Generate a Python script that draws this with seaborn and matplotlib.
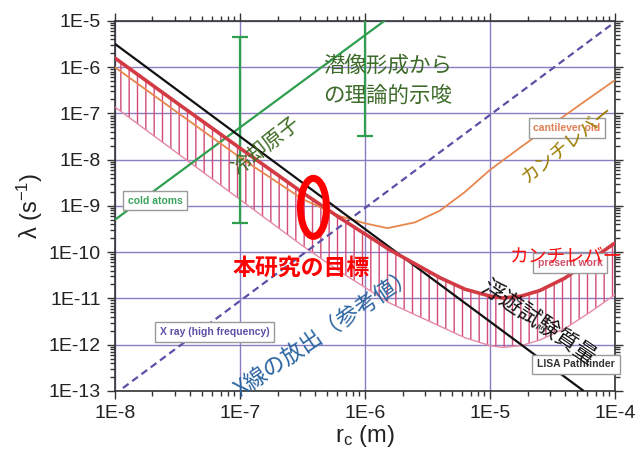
import matplotlib
matplotlib.use("Agg")
import matplotlib.pyplot as plt
import numpy as np
import seaborn as sns
from matplotlib.patches import Ellipse
from matplotlib.ticker import FixedLocator, FixedFormatter, LogLocator, NullFormatter

# --- data (r_c in m, lambda in 1/s) ---
x_ticks = [1e-8, 1e-7, 1e-6, 1e-5, 1e-4]
x_labels = ["1E-8", "1E-7", "1E-6", "1E-5", "1E-4"]
y_ticks = [1e-13, 1e-12, 1e-11, 1e-10, 1e-9, 1e-8, 1e-7, 1e-6, 1e-5]
y_labels = ["1E-13", "1E-12", "1E-11", "1E-10", "1E-9", "1E-8", "1E-7", "1E-6", "1E-5"]

# LISA Pathfinder (black)
lisa_x = [1e-8, 5.6e-5]
lisa_y = [3.2e-6, 1.0e-13]

# cold atoms (green) and its two error bars
cold_x = [1e-8, 1.5e-6]
cold_y = [5.0e-10, 1.1e-5]
err_x = [1e-7, 1e-6]
err_lo = [4.3e-10, 3.2e-8]
err_hi = [4.5e-6, 3.0e-4]

# X ray (high frequency), dashed
xray_x = [1.16e-8, 1e-4]
xray_y = [1.15e-13, 9.5e-6]

# cantilever old (orange)
cant_x = [1e-8, 3.16e-8, 1e-7, 3.16e-7, 6.3e-7, 1e-6, 1.51e-6, 2.51e-6,
          3.98e-6, 6.3e-6, 1e-5, 1.78e-5, 3.16e-5, 5.6e-5, 1e-4]
cant_y = [1.0e-6, 1.05e-7, 1.12e-8, 1.41e-9, 6.0e-10, 4.2e-10, 3.3e-10, 4.4e-10,
          7.9e-10, 2.0e-9, 6.0e-9, 1.9e-8, 5.8e-8, 1.75e-7, 5.25e-7]

# present work: upper bound (thick red) and lower bound of hatched band
pw_x = [1e-8, 3.16e-8, 1e-7, 3.16e-7, 6.3e-7, 1.58e-6, 3.98e-6, 6.3e-6,
        1e-5, 1.26e-5, 1.78e-5, 2.51e-5, 3.98e-5, 6.3e-5, 1e-4]
pw_upper = [1.58e-6, 1.66e-7, 1.78e-8, 1.95e-9, 5.5e-10, 1.12e-10, 2.8e-11, 1.58e-11,
            1.12e-11, 1.02e-11, 1.12e-11, 1.48e-11, 2.75e-11, 6.6e-11, 1.58e-10]
pw_lower = [1.38e-7, 1.38e-8, 1.38e-9, 1.38e-10, 3.8e-11, 7.9e-12, 2.5e-12, 1.41e-12,
            9.5e-13, 8.7e-13, 9.5e-13, 1.26e-12, 2.24e-12, 5.0e-12, 1.2e-11]

green = "#2f9e4f"
red = "#d23a44"
orange = "#e8874d"
xray_col = "#5b50a6"
grid_col = "#8c7cc4"

sns.set_style("ticks")
plt.rcParams["font.family"] = ["Liberation Sans", "Noto Sans CJK JP", "DejaVu Sans"]
plt.rcParams["mathtext.fontset"] = "custom"
plt.rcParams["mathtext.rm"] = "Liberation Sans"
plt.rcParams["mathtext.it"] = "Liberation Sans:italic"
plt.rcParams["hatch.linewidth"] = 1.0
jp = ["Noto Sans CJK JP", "DejaVu Sans"]

fig, ax = plt.subplots(figsize=(6.38, 4.55), dpi=100)
fig.subplots_adjust(left=0.180, right=0.964, bottom=0.141, top=0.954)
ax.set_xscale("log")
ax.set_yscale("log")

# hatched band for the present work
ax.fill_between(pw_x, pw_lower, pw_upper, facecolor="none", edgecolor="#d24a78",
                hatch="||", linewidth=0, zorder=2)
sns.lineplot(x=pw_x, y=pw_lower, ax=ax, color="#e58aa3", lw=1.0, sort=False,
             estimator=None, zorder=3)

sns.lineplot(x=cold_x, y=cold_y, ax=ax, color=green, lw=1.6, sort=False, estimator=None, zorder=3)
ax.errorbar(err_x, err_lo, yerr=[np.zeros(len(err_x)), np.subtract(err_hi, err_lo)],
            fmt="none", ecolor=green, elinewidth=1.6, capsize=6, capthick=1.6, zorder=3)
sns.lineplot(x=xray_x, y=xray_y, ax=ax, color=xray_col, lw=1.6, sort=False, estimator=None,
             linestyle=(0, (3.2, 2.0)), zorder=3)
sns.lineplot(x=cant_x, y=cant_y, ax=ax, color=orange, lw=1.3, sort=False, estimator=None, zorder=4)
sns.lineplot(x=lisa_x, y=lisa_y, ax=ax, color="#111111", lw=1.6, sort=False, estimator=None, zorder=4)
sns.lineplot(x=pw_x, y=pw_upper, ax=ax, color=red, lw=2.6, sort=False, estimator=None, zorder=5)

ax.set_xlim(1e-8, 1e-4)
ax.set_ylim(1e-13, 1e-5)
ax.xaxis.set_major_locator(FixedLocator(x_ticks))
ax.xaxis.set_major_formatter(FixedFormatter(x_labels))
ax.yaxis.set_major_locator(FixedLocator(y_ticks))
ax.yaxis.set_major_formatter(FixedFormatter(y_labels))
ax.xaxis.set_minor_locator(LogLocator(base=10, subs=np.arange(2, 10), numticks=20))
ax.yaxis.set_minor_locator(LogLocator(base=10, subs=np.arange(2, 10), numticks=20))
ax.xaxis.set_minor_formatter(NullFormatter())
ax.yaxis.set_minor_formatter(NullFormatter())

ax.grid(True, which="major", color=grid_col, lw=1.0)
ax.set_axisbelow(True)
ax.tick_params(which="both", direction="out", top=True, right=True, color="#333333", width=1)
ax.tick_params(which="major", length=6, labelsize=14, labelcolor="#222222", pad=4)
ax.tick_params(which="minor", length=3.5)
for s in ax.spines.values():
    s.set_color("#333333")
    s.set_linewidth(1.2)

ax.set_xlabel("r$_{\\rm c}$ (m)", fontsize=17, color="#222222", labelpad=1)
ax.set_ylabel("λ (s$^{-1}$)", fontsize=17, color="#222222", labelpad=3)

# small legend-like boxes
box = dict(boxstyle="square,pad=0.45", fc="white", ec="#9a9a9a", lw=1)
ax.text(0.081, 0.514, "cold atoms", transform=ax.transAxes, fontsize=7.5, fontweight="bold",
        color="#3aa35c", ha="center", va="center", bbox=box, zorder=6)
ax.text(0.199, 0.159, "X ray (high frequency)", transform=ax.transAxes, fontsize=7.5,
        fontweight="bold", color=xray_col, ha="center", va="center", bbox=box, zorder=6)
ax.text(0.904, 0.711, "cantilever old", transform=ax.transAxes, fontsize=7.5, fontweight="bold",
        color="#e07f55", ha="center", va="center", bbox=box, zorder=6)
ax.text(0.91, 0.346, "present work", transform=ax.transAxes, fontsize=7.5, fontweight="bold",
        color="#d0506a", ha="center", va="center", bbox=box, zorder=6)
ax.text(0.922, 0.072, "LISA Pathfinder", transform=ax.transAxes, fontsize=7.5, fontweight="bold",
        color="#333333", ha="center", va="center", bbox=box, zorder=6, clip_on=False)

# Japanese annotations
ax.text(0.416, 0.838, "潜像形成から\nの理論的示唆", transform=ax.transAxes, family=jp,
        fontsize=15.5, color="#3d6b2a", ha="left", va="center", linespacing=1.45, zorder=7)
ax.text(0.302, 0.662, "冷却原子", transform=ax.transAxes, family=jp, fontsize=14.5,
        color="#3f6b22", rotation=38.5, ha="center", va="center", rotation_mode="anchor", zorder=7)
ax.text(0.906, 0.669, "カンチレバー", transform=ax.transAxes, family=jp, fontsize=13.5,
        color="#9c7c00", rotation=39, ha="center", va="center", rotation_mode="anchor", zorder=7)
ax.text(0.236, 0.332, "本研究の目標", transform=ax.transAxes, family=jp, fontsize=16.5,
        fontweight="bold", color="#ff0000", ha="left", va="center", zorder=7)
ax.text(0.79, 0.362, "カンチレバー", transform=ax.transAxes, family=jp, fontsize=13.5,
        color="#ff1010", ha="left", va="center", zorder=7)
ax.text(0.846, 0.186, "浮遊試験質量", transform=ax.transAxes, family=jp, fontsize=16,
        color="#111111", rotation=-34, ha="center", va="center", rotation_mode="anchor", zorder=7)
ax.text(0.42, 0.157, "X線の放出（参考値）", transform=ax.transAxes, family=jp, fontsize=16,
        color="#2a64a0", rotation=34, ha="center", va="center", rotation_mode="anchor", zorder=7)

ax.add_patch(Ellipse((0.397, 0.496), 0.052, 0.157, transform=ax.transAxes, fill=False,
                     ec="#ff0000", lw=5, zorder=8))

fig.savefig("out.png", dpi=100)
